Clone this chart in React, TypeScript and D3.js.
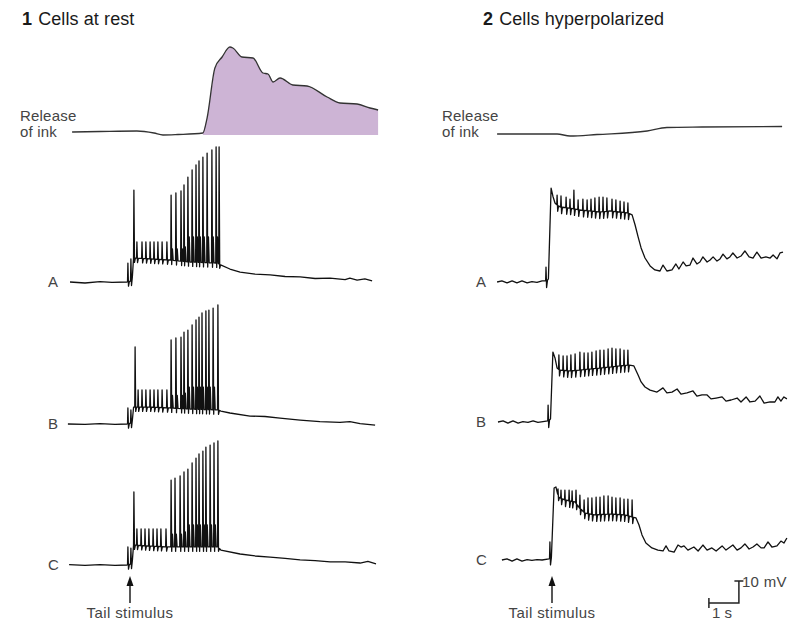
import React, { useEffect, useRef } from "react";
import * as d3 from "d3";

type Pt = [number, number];
type Spike = [number, number, number?];

// time in s (0 = tail stimulus), membrane values in mV above rest, ink in arbitrary units

const inkRest: Pt[] = [
  [-1.93, 1], [-1.0, 1.5], [0.23, 2], [0.8, 0], [1.1, -2], [1.6, -1.5], [2.43, 0],
  [2.57, 15], [2.83, 65], [3.07, 76], [3.33, 86], [3.43, 85], [3.73, 76], [4.1, 75],
  [4.43, 60], [4.6, 59], [4.77, 51], [5.0, 55], [5.43, 48], [5.9, 47], [6.57, 36],
  [7.0, 30], [7.57, 29], [8.0, 25], [8.27, 23],
];

const inkHyper: Pt[] = [
  [-1.83, -1], [0.17, -1], [0.6, -3], [1.5, -1.5], [3.17, 2], [3.83, 5.5], [5.0, 6], [7.67, 6.5],
];

// 1 Cells at rest
const restA: Pt[] = [
  [-2.0, 0], [-1.5, -0.45], [-1.0, 0.2], [-0.6, -0.2], [-0.1, 0], [0.07, 0.5], [0.12, 10.9],
  [0.67, 10.5], [1.33, 10], [2.0, 9.1], [2.93, 8.6], [3.03, 7.7], [3.33, 5.9], [3.67, 4.5],
  [4.17, 3.6], [4.67, 3.2], [5.17, 2.5], [5.67, 2.3], [6.17, 1.6], [6.67, 1.8], [7.17, 1.1],
  [7.33, 1.8], [7.57, 0.9], [7.83, 1.4], [8.07, 0.5],
];
const restASpikes: Spike[] = [
  [-0.07, 8.6], [0.03, 10.5], [0.13, 41.8],
  [0.23, 18.2], [0.4, 18.2], [0.53, 18.2], [0.67, 18.2], [0.8, 18.2], [0.93, 18.2], [1.07, 18.2], [1.23, 18.2],
  [1.37, 39.5, 15], [1.53, 40.5, 15], [1.7, 41.4, 15], [1.8, 44.1, 16], [1.93, 47.7, 20.5],
  [2.07, 50.9, 20.5], [2.2, 53.2, 20.5], [2.3, 55, 20.5], [2.43, 56.8, 20.5], [2.57, 58.6, 20.5],
  [2.73, 60, 20.5], [2.87, 61.4, 20.5], [2.97, 61.4],
];

const restB: Pt[] = [
  [-2.07, 0], [-1.5, -0.2], [-1.0, 0.2], [-0.5, -0.2], [-0.1, 0], [0.07, 0.5], [0.12, 7.7],
  [0.67, 7.7], [1.33, 7.3], [2.0, 6.8], [2.93, 6.4], [3.03, 5.9], [3.33, 5], [4.0, 3.6],
  [4.5, 3.4], [5.0, 2.7], [5.67, 1.8], [6.33, 1.1], [7.0, 0.7], [7.33, 1.1], [7.67, 0.2], [8.17, -0.5],
];
const restBSpikes: Spike[] = [
  [-0.07, 7.3], [0.03, 6.4], [0.17, 35],
  [0.27, 15.5], [0.4, 15.5], [0.53, 15.5], [0.67, 15.5], [0.8, 15.5], [0.93, 15.5], [1.07, 15.5], [1.23, 15.5],
  [1.37, 38.2, 13], [1.53, 39.1, 13], [1.7, 39.5, 13], [1.8, 41.8, 14], [1.93, 42.7, 16.8],
  [2.07, 45, 16.8], [2.2, 47.3, 16.8], [2.3, 48.6, 16.8], [2.4, 50.5, 16.8], [2.53, 51.4, 16.8],
  [2.63, 51.8, 16.8], [2.77, 52.7, 16.8], [2.93, 54.1],
];

const restC: Pt[] = [
  [-2.03, 0.2], [-1.5, -0.2], [-1.0, 0.2], [-0.5, -0.2], [-0.1, 0], [0.07, 0.5], [0.12, 9.1],
  [0.67, 8.6], [1.33, 8.2], [2.0, 8.2], [2.93, 8.2], [3.03, 6.8], [3.67, 5], [4.17, 4.1],
  [4.67, 3.6], [5.17, 3], [5.67, 2.3], [6.17, 2], [6.67, 1.4], [7.17, 1.4], [7.67, 0.9],
  [7.93, 1.6], [8.2, 0.5],
];
const restCSpikes: Spike[] = [
  [-0.07, 8.2], [0.03, 7.7], [0.13, 33.2],
  [0.23, 16.4], [0.37, 16.4], [0.5, 16.4], [0.63, 16.4], [0.77, 16.4], [0.9, 16.4], [1.03, 16.4], [1.2, 16.4],
  [1.37, 38.6, 14], [1.5, 39.5, 14], [1.67, 40.5, 14], [1.8, 42.3, 15], [1.93, 43.6, 18.2],
  [2.07, 46.4, 18.2], [2.2, 48.6, 18.2], [2.3, 50.5, 18.2], [2.43, 51.8, 18.2], [2.53, 53.6, 18.2],
  [2.67, 54.5, 18.2], [2.8, 55.5, 18.2], [2.93, 56.4],
];

// 2 Cells hyperpolarized
const hypA: Pt[] = [
  [-1.83, 0], [-1.67, 0.5], [-1.5, -0.4], [-1.33, 0.5], [-1.17, -0.4], [-1.0, 0.5], [-0.83, -0.4],
  [-0.67, 0.2], [-0.5, -0.2], [-0.33, 0.5], [-0.17, 0.5], [-0.12, 1.4], [-0.03, 42.7], [0.03, 39],
  [0.1, 35.9], [0.27, 34.1], [0.6, 33.6], [0.93, 32.7], [1.27, 32.3], [1.6, 31.8], [1.93, 32.3],
  [2.27, 31.8], [2.53, 31.4], [2.67, 30.5], [2.77, 25.9], [2.87, 20.5], [2.97, 15.5], [3.1, 10.9],
  [3.27, 7.3], [3.43, 5.5], [3.6, 5], [3.7, 7.7], [3.83, 5], [4.0, 5.5], [4.13, 8.2], [4.23, 5.9],
  [4.37, 9.1], [4.47, 7.3], [4.6, 7.7], [4.7, 10.9], [4.83, 8.2], [4.93, 9.1], [5.03, 11.4],
  [5.17, 9.1], [5.27, 10], [5.37, 11.4], [5.5, 9.5], [5.6, 10.5], [5.7, 12.7], [5.83, 10.5],
  [5.93, 11.4], [6.03, 13.2], [6.17, 10.9], [6.3, 11.8], [6.43, 14.1], [6.57, 11.4], [6.7, 10.9],
  [6.83, 13.6], [6.97, 10.9], [7.13, 11.4], [7.27, 10.9], [7.37, 12.3], [7.5, 10.5], [7.6, 13.2],
  [7.7, 13.6],
];
const hypASpikes: Spike[] = [
  [-0.2, 6.8],
  [0.17, 39.5], [0.3, 39.1], [0.47, 38.6], [0.6, 37.7], [0.73, 41.8], [0.87, 37.3], [1.03, 37.7],
  [1.17, 37.3], [1.3, 37.7], [1.43, 38.2], [1.57, 38.6], [1.7, 38.6], [1.83, 38.2], [2.0, 37.7],
  [2.13, 37.3], [2.27, 36.8], [2.4, 36.4], [2.53, 35.9],
];

const hypB: Pt[] = [
  [-1.8, 0], [-1.63, 0.5], [-1.47, -0.5], [-1.3, 0.5], [-1.13, -0.5], [-0.97, 0.2], [-0.8, -0.2],
  [-0.63, 0.5], [-0.47, -0.2], [-0.3, 0.2], [-0.13, 0.5], [-0.05, 1.4], [0.03, 31.8], [0.1, 29.1],
  [0.17, 24.5], [0.27, 23.6], [0.6, 23.2], [0.93, 23.6], [1.27, 24.1], [1.6, 24.5], [1.93, 25],
  [2.27, 25.5], [2.6, 25.9], [2.73, 25.5], [2.87, 21.4], [2.97, 18.2], [3.1, 15.9], [3.27, 14.5],
  [3.5, 13.6], [3.7, 15.5], [3.83, 13.2], [4.0, 13.6], [4.17, 15], [4.3, 12.7], [4.5, 13.2],
  [4.7, 14.1], [4.83, 11.8], [5.0, 12.3], [5.17, 12.3], [5.3, 10.5], [5.47, 10.9], [5.67, 11.4],
  [5.8, 9.5], [5.97, 10], [6.17, 10.9], [6.3, 9.1], [6.47, 11.4], [6.6, 9.1], [6.77, 9.5],
  [6.93, 11.8], [7.07, 8.6], [7.27, 9.1], [7.43, 9.1], [7.53, 11.4], [7.63, 9.5], [7.73, 11.4],
  [7.83, 10.5],
];
const hypBSpikes: Spike[] = [
  [-0.13, 7.7],
  [0.23, 30.5], [0.37, 30], [0.5, 30], [0.63, 30.5], [0.77, 30.9], [0.93, 31.8], [1.07, 31.4],
  [1.2, 31.4], [1.33, 31.8], [1.47, 32.3], [1.6, 32.7], [1.73, 32.7], [1.87, 33.2], [2.0, 33.6],
  [2.13, 33.2], [2.27, 33.2], [2.4, 32.7], [2.53, 32.7],
];

const hypC: Pt[] = [
  [-1.67, 0], [-1.5, 0.5], [-1.33, -0.5], [-1.17, 0.5], [-1.0, -0.5], [-0.83, 0.2], [-0.67, -0.2],
  [-0.5, 0.2], [-0.33, 0], [-0.1, 0.5], [0, 1.4], [0.07, 32.7], [0.13, 33.2], [0.23, 28.6],
  [0.43, 27.3], [0.77, 26.4], [0.93, 23.6], [1.1, 21.4], [1.43, 20.5], [1.93, 20.9], [2.43, 20.5],
  [2.8, 19.1], [2.9, 15.9], [3.0, 11.4], [3.13, 7.7], [3.33, 5.5], [3.53, 4.5], [3.7, 4.1],
  [3.8, 6.4], [3.9, 4.1], [4.07, 3.6], [4.2, 6.8], [4.3, 5.9], [4.4, 6.4], [4.53, 4.5], [4.73, 5.9],
  [4.87, 4.1], [5.03, 6.8], [5.17, 4.5], [5.33, 5.5], [5.47, 4.1], [5.67, 6.4], [5.8, 4.5],
  [6.03, 6.8], [6.17, 4.5], [6.3, 5.5], [6.43, 7.3], [6.57, 5], [6.7, 5.9], [6.83, 7.3],
  [6.97, 5.5], [7.07, 5.5], [7.2, 8.2], [7.33, 5.9], [7.5, 6.4], [7.63, 8.6], [7.73, 7.7], [7.83, 10],
];
const hypCSpikes: Spike[] = [
  [-0.07, 8.2],
  [0.2, 32.3], [0.3, 31.8], [0.43, 31.8], [0.57, 31.8], [0.67, 31.4], [0.8, 31.8], [0.93, 29.5],
  [1.07, 27.3], [1.2, 28.2], [1.33, 28.2], [1.47, 28.6], [1.6, 28.6], [1.73, 29.1], [1.87, 29.1],
  [2.0, 28.6], [2.13, 28.2], [2.27, 28.2], [2.4, 27.7], [2.53, 27.7], [2.67, 27.3],
];

const rowLabels = ["A", "B", "C"];
const restTraces = [
  { env: restA, spikes: restASpikes },
  { env: restB, spikes: restBSpikes },
  { env: restC, spikes: restCSpikes },
];
const hypTraces = [
  { env: hypA, spikes: hypASpikes },
  { env: hypB, spikes: hypBSpikes },
  { env: hypC, spikes: hypCSpikes },
];

// merge slow envelope with the spikes riding on it
function tracePoints(env: Pt[], spikes: Spike[], undershoot: number): Pt[] {
  const baseAt = d3
    .scaleLinear()
    .domain(env.map((d) => d[0]))
    .range(env.map((d) => d[1]))
    .clamp(true);
  const pts: Pt[] = env.filter(([t]) => !spikes.some((s) => t > s[0] - 0.015 && t < s[0] + 0.08));
  spikes.forEach(([t, peak, shoulder]) => {
    const b = baseAt(t);
    pts.push([t - 0.012, b], [t, peak], [t + 0.02, b - undershoot]);
    if (shoulder != null) pts.push([t + 0.045, shoulder], [t + 0.07, baseAt(t + 0.07)]);
    else pts.push([t + 0.05, baseAt(t + 0.05)]);
  });
  return pts.sort((a, b) => a[0] - b[0]);
}

const App = () => {
  const ref = useRef<HTMLDivElement>(null);

  useEffect(() => {
    document.body.style.margin = "0";
    d3.select(ref.current).select("svg").remove();

    const width = 796;
    const height = 624;
    const font = "'Liberation Sans', Arial, sans-serif";

    const svg = d3
      .select(ref.current)
      .append("svg")
      .attr("width", width)
      .attr("height", height)
      .style("display", "block")
      .style("background", "#fff");

    const panels = [
      {
        num: "1", title: "Cells at rest", titleX: 22, labelX: 20, rowX: 48,
        x: d3.scaleLinear().domain([0, 1]).range([130, 160]),
        ink: inkRest, fillFrom: 2.43, traces: restTraces, bases: [282, 424, 565], undershoot: 2,
      },
      {
        num: "2", title: "Cells hyperpolarized", titleX: 483, labelX: 442, rowX: 476,
        x: d3.scaleLinear().domain([0, 1]).range([552, 582]),
        ink: inkHyper, fillFrom: null, traces: hypTraces, bases: [282, 422, 560], undershoot: 3,
      },
    ];

    const inkY = d3.scaleLinear().domain([0, 100]).range([133, 33]);

    panels.forEach((p) => {
      // title
      const title = svg
        .append("text")
        .attr("x", p.titleX)
        .attr("y", 25)
        .style("font-family", font)
        .style("font-size", "18px")
        .style("letter-spacing", "0.1px")
        .style("fill", "#1a1a1a");
      title.append("tspan").style("font-weight", "bold").text(p.num);
      title.append("tspan").attr("dx", 6).text(p.title);

      // ink release
      ["Release", "of ink"].forEach((t, i) => {
        svg
          .append("text")
          .attr("x", p.labelX)
          .attr("y", 121 + i * 16)
          .style("font-family", font)
          .style("font-size", "15px")
          .style("letter-spacing", "0.2px")
          .style("fill", "#444")
          .text(t);
      });

      if (p.fillFrom != null) {
        const area = d3
          .area<Pt>()
          .x((d) => p.x(d[0]))
          .y0(inkY(-2))
          .y1((d) => inkY(d[1]));
        svg
          .append("path")
          .datum(p.ink.filter((d) => d[0] >= p.fillFrom!))
          .attr("d", area)
          .attr("fill", "#cdb4d5");
      }
      svg
        .append("path")
        .datum(p.ink)
        .attr("d", d3.line<Pt>().x((d) => p.x(d[0])).y((d) => inkY(d[1])).curve(d3.curveMonotoneX))
        .attr("fill", "none")
        .attr("stroke", "#333")
        .attr("stroke-width", 1.3);

      // membrane traces
      p.traces.forEach((tr, i) => {
        const y = d3.scaleLinear().domain([0, 10]).range([p.bases[i], p.bases[i] - 22]);
        svg
          .append("path")
          .datum(tracePoints(tr.env, tr.spikes, p.undershoot))
          .attr("d", d3.line<Pt>().x((d) => p.x(d[0])).y((d) => y(d[1])))
          .attr("fill", "none")
          .attr("stroke", "#111")
          .attr("stroke-width", 1.3)
          .attr("stroke-linejoin", "round");
        svg
          .append("text")
          .attr("x", p.rowX)
          .attr("y", p.bases[i] + 5)
          .style("font-family", font)
          .style("font-size", "15px")
          .style("fill", "#444")
          .text(rowLabels[i]);
      });

      // tail stimulus arrow
      const ax = p.x(0);
      svg
        .append("line")
        .attr("x1", ax).attr("x2", ax)
        .attr("y1", 584).attr("y2", 603)
        .attr("stroke", "#111")
        .attr("stroke-width", 1.4);
      svg
        .append("path")
        .attr("d", `M${ax},576 L${ax - 3.5},586 L${ax + 3.5},586 Z`)
        .attr("fill", "#111");
      svg
        .append("text")
        .attr("x", ax)
        .attr("y", 618)
        .attr("text-anchor", "middle")
        .style("font-family", font)
        .style("font-size", "15px")
        .style("letter-spacing", "0.4px")
        .style("fill", "#444")
        .text("Tail stimulus");
    });

    // scale bar: 1 s, 10 mV
    const sx = panels[1].x;
    const sy = d3.scaleLinear().domain([0, 10]).range([603, 581]);
    const x0 = sx(5.23);
    const x1 = x0 + (sx(1) - sx(0));
    const bar = svg.append("g").attr("stroke", "#222").attr("stroke-width", 1.5).attr("fill", "none");
    bar.append("path").attr("d", `M${x0},${sy(0)} H${x1} V${sy(10)}`);
    bar.append("line").attr("x1", x0).attr("x2", x0).attr("y1", sy(0) - 5).attr("y2", sy(0) + 5);
    bar.append("line").attr("x1", x1 - 4.5).attr("x2", x1 + 4.5).attr("y1", sy(10)).attr("y2", sy(10));
    svg
      .append("text")
      .attr("x", x1 + 3)
      .attr("y", sy(7.5))
      .style("font-family", font)
      .style("font-size", "15px")
      .style("letter-spacing", "0.3px")
      .style("fill", "#444")
      .text("10 mV");
    svg
      .append("text")
      .attr("x", x0 + 3)
      .attr("y", 618)
      .style("font-family", font)
      .style("font-size", "15px")
      .style("fill", "#444")
      .text("1 s");
  }, []);

  return <div ref={ref}></div>;
};

export default App;
